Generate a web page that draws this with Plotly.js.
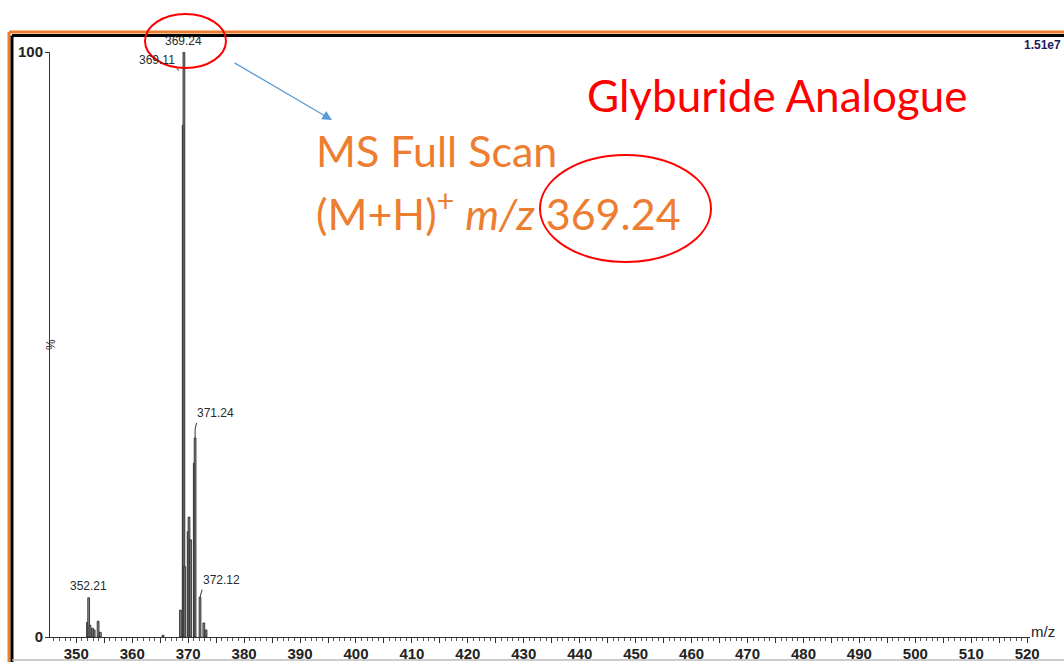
<!DOCTYPE html>
<html>
<head>
<meta charset="utf-8">
<script src="https://cdn.plot.ly/plotly-3.0.1.min.js"></script>
<style>html,body{margin:0;padding:0;background:#fff;}#chart{width:1064px;height:662px;}</style>
</head>
<body>
<div id="chart"></div>
<script>
// ---- data ----
const mzValues = [352.0, 352.21, 352.45, 352.9, 353.2, 353.9, 354.3, 365.5, 368.62, 369.11, 369.24, 369.4, 370.0, 370.15, 370.45, 371.1, 371.24, 372.12, 372.8, 373.2];
const relIntensity = [2.5, 6.7, 2.0, 1.5, 1.2, 2.7, 0.8, 0.3, 4.6, 87.5, 100, 12, 18, 20.5, 16.6, 29.7, 34, 6.8, 2.4, 1.2];
const xTickValues = [350, 360, 370, 380, 390, 400, 410, 420, 430, 440, 450, 460, 470, 480, 490, 500, 510, 520];
const yTickValues = [0, 100];
const yTickLabels = ['0', '100'];
const basePeakIntensity = '1.51e7';

// ---- layout helpers: pixel -> paper ----
const W = 1064, H = 662, L = 50, R = 1030, T = 52, B = 637;
const px = X => (X - L) / (R - L);
const py = Y => (B - Y) / (B - T);
const intensityAt = m => relIntensity[mzValues.indexOf(m)];

const peakTrace = {
  type: 'bar', x: mzValues, y: relIntensity, width: 0.32,
  marker: {color: '#8c8c8c', line: {color: '#1e1e1e', width: 0.8}},
  hoverinfo: 'x+y', showlegend: false
};
// invisible trace for the 5-unit tick level
const tickTrace = {type: 'scatter', x: [345.3, 520.5], y: [0, 0], xaxis: 'x2', mode: 'none', showlegend: false, hoverinfo: 'skip'};

const lblFont = {family: 'Liberation Sans, Arial', size: 12, color: '#2a2a2a'};
const annotations = [
  {x: 352.21, y: intensityAt(352.21), text: '352.21', xanchor: 'center', yanchor: 'bottom', yshift: 3},
  {x: 369.24, y: 100, text: '369.24', xanchor: 'center', yanchor: 'bottom', yshift: 2},
  {x: 369.11, y: 100, text: '369.11', xanchor: 'right', yanchor: 'top', xshift: -6, yshift: 1},
  {x: 371.24, y: intensityAt(371.24), text: '371.24', xanchor: 'left', yanchor: 'bottom', xshift: 0, yshift: 16},
  {x: 372.12, y: intensityAt(372.12), text: '372.12', xanchor: 'left', yanchor: 'bottom', xshift: 1, yshift: 8}
].map(a => Object.assign({xref: 'x', yref: 'y', showarrow: false, font: lblFont}, a));

annotations.push(
  {xref: 'paper', yref: 'paper', x: px(1063), y: py(45), text: '<b>' + basePeakIntensity + '</b>', showarrow: false, xanchor: 'right', yanchor: 'middle', font: {family: 'Liberation Sans, Arial', size: 12, color: '#1a1a5e'}},
  {xref: 'paper', yref: 'paper', x: px(1029), y: py(637), text: 'm/z', showarrow: false, xanchor: 'left', yanchor: 'bottom', yshift: -5, font: {family: 'Liberation Sans, Arial', size: 15, color: '#222'}},
  {xref: 'paper', yref: 'paper', x: px(42), y: py(345), text: '%', textangle: -90, showarrow: false, font: {family: 'Liberation Sans, Arial', size: 12, color: '#333'}},
  {xref: 'paper', yref: 'paper', x: px(777), y: py(95), text: 'Glyburide Analogue', showarrow: false, xanchor: 'center', yanchor: 'middle', font: {family: 'Lato, Open Sans', size: 44, color: '#ff0000'}},
  {xref: 'paper', yref: 'paper', x: px(314), y: py(151), text: 'MS Full Scan', showarrow: false, xanchor: 'left', yanchor: 'middle', font: {family: 'Lato, Open Sans', size: 43, color: '#ed7d31'}},
  {xref: 'paper', yref: 'paper', x: px(314), y: py(210), text: '(M+H)<sup>+</sup> <i>m/z</i> 369.24', showarrow: false, xanchor: 'left', yanchor: 'middle', font: {family: 'Lato, Open Sans', size: 43, color: '#ed7d31'}},
  // blue arrow
  {xref: 'paper', yref: 'paper', axref: 'paper', ayref: 'paper', x: px(332), y: py(120), ax: px(233), ay: py(62), text: '', showarrow: true, arrowhead: 2, arrowsize: 1.6, arrowwidth: 1.2, arrowcolor: '#5b9bd5'}
);

const line = (x0, y0, x1, y1, color, width) => ({type: 'line', xref: 'paper', yref: 'paper', x0, y0, x1, y1, line: {color, width}});
const shapes = [
  // outer frame
  line(px(9), py(32), px(1070), py(32), '#ed7d31', 3),
  line(px(9), py(32), px(9), py(668), '#ed7d31', 3),
  line(px(12), py(35.5), px(1070), py(35.5), '#000', 3),
  line(px(12), py(35.5), px(12), py(668), '#000', 3),
  line(px(12), py(660), px(1070), py(660), '#bbbbbb', 1.5),
  // label leaders
  {type: 'line', xref: 'x', yref: 'y', x0: 371.24, y0: intensityAt(371.24), x1: 371.24, y1: intensityAt(371.24) + 1.5, line: {color: '#333', width: 1}},
  {type: 'line', xref: 'x', yref: 'y', x0: 371.24, y0: intensityAt(371.24) + 1.5, x1: 371.5, y1: intensityAt(371.24) + 2.6, line: {color: '#333', width: 1}},
  {type: 'line', xref: 'x', yref: 'y', x0: 372.12, y0: intensityAt(372.12), x1: 372.5, y1: intensityAt(372.12) + 1.3, line: {color: '#333', width: 1}},
  {type: 'line', xref: 'x', yref: 'y', x0: 368.0, y0: 97.2, x1: 368.3, y1: 96.8, line: {color: '#333', width: 1}},
  // red ellipses
  {type: 'circle', xref: 'paper', yref: 'paper', x0: px(145), x1: px(226), y0: py(14), y1: py(68), line: {color: '#ff0000', width: 2}},
  {type: 'circle', xref: 'paper', yref: 'paper', x0: px(540), x1: px(711), y0: py(155), y1: py(262), line: {color: '#ff0000', width: 2}}
];

const axisFont = {family: 'Liberation Sans, Arial', size: 15, color: '#222', weight: 'bold'};
const layout = {
  width: W, height: H,
  margin: {l: L, r: W - R, t: T, b: H - B, pad: 0},
  paper_bgcolor: '#fff', plot_bgcolor: '#fff',
  barmode: 'overlay', bargap: 0,
  showlegend: false,
  xaxis: {
    range: [345.3, 520.5], showgrid: false, zeroline: false,
    showline: true, linecolor: '#333', linewidth: 1,
    tickmode: 'array', tickvals: xTickValues, ticktext: xTickValues.map(String),
    ticks: 'outside', ticklen: 5, tickcolor: '#333', tickwidth: 1, ticklabelstandoff: -2,
    minor: {dtick: 1, ticks: 'outside', ticklen: 3, tickcolor: '#555', tickwidth: 1},
    tickfont: axisFont
  },
  xaxis2: {
    overlaying: 'x', matches: 'x', range: [345.3, 520.5], anchor: 'y', side: 'bottom',
    showgrid: false, zeroline: false, showline: false, showticklabels: false,
    dtick: 5, tick0: 345, ticks: 'outside', ticklen: 5, tickcolor: '#333', tickwidth: 1
  },
  yaxis: {
    range: [0, 100], showgrid: false, zeroline: false,
    showline: true, linecolor: '#333', linewidth: 1,
    tickmode: 'array', tickvals: yTickValues, ticktext: yTickLabels,
    ticks: 'outside', ticklen: 4, tickcolor: '#333', ticklabelstandoff: -1,
    tickfont: axisFont
  },
  annotations, shapes
};

Plotly.newPlot('chart', [peakTrace, tickTrace], layout, {displayModeBar: false, staticPlot: true});
</script>
</body>
</html>
